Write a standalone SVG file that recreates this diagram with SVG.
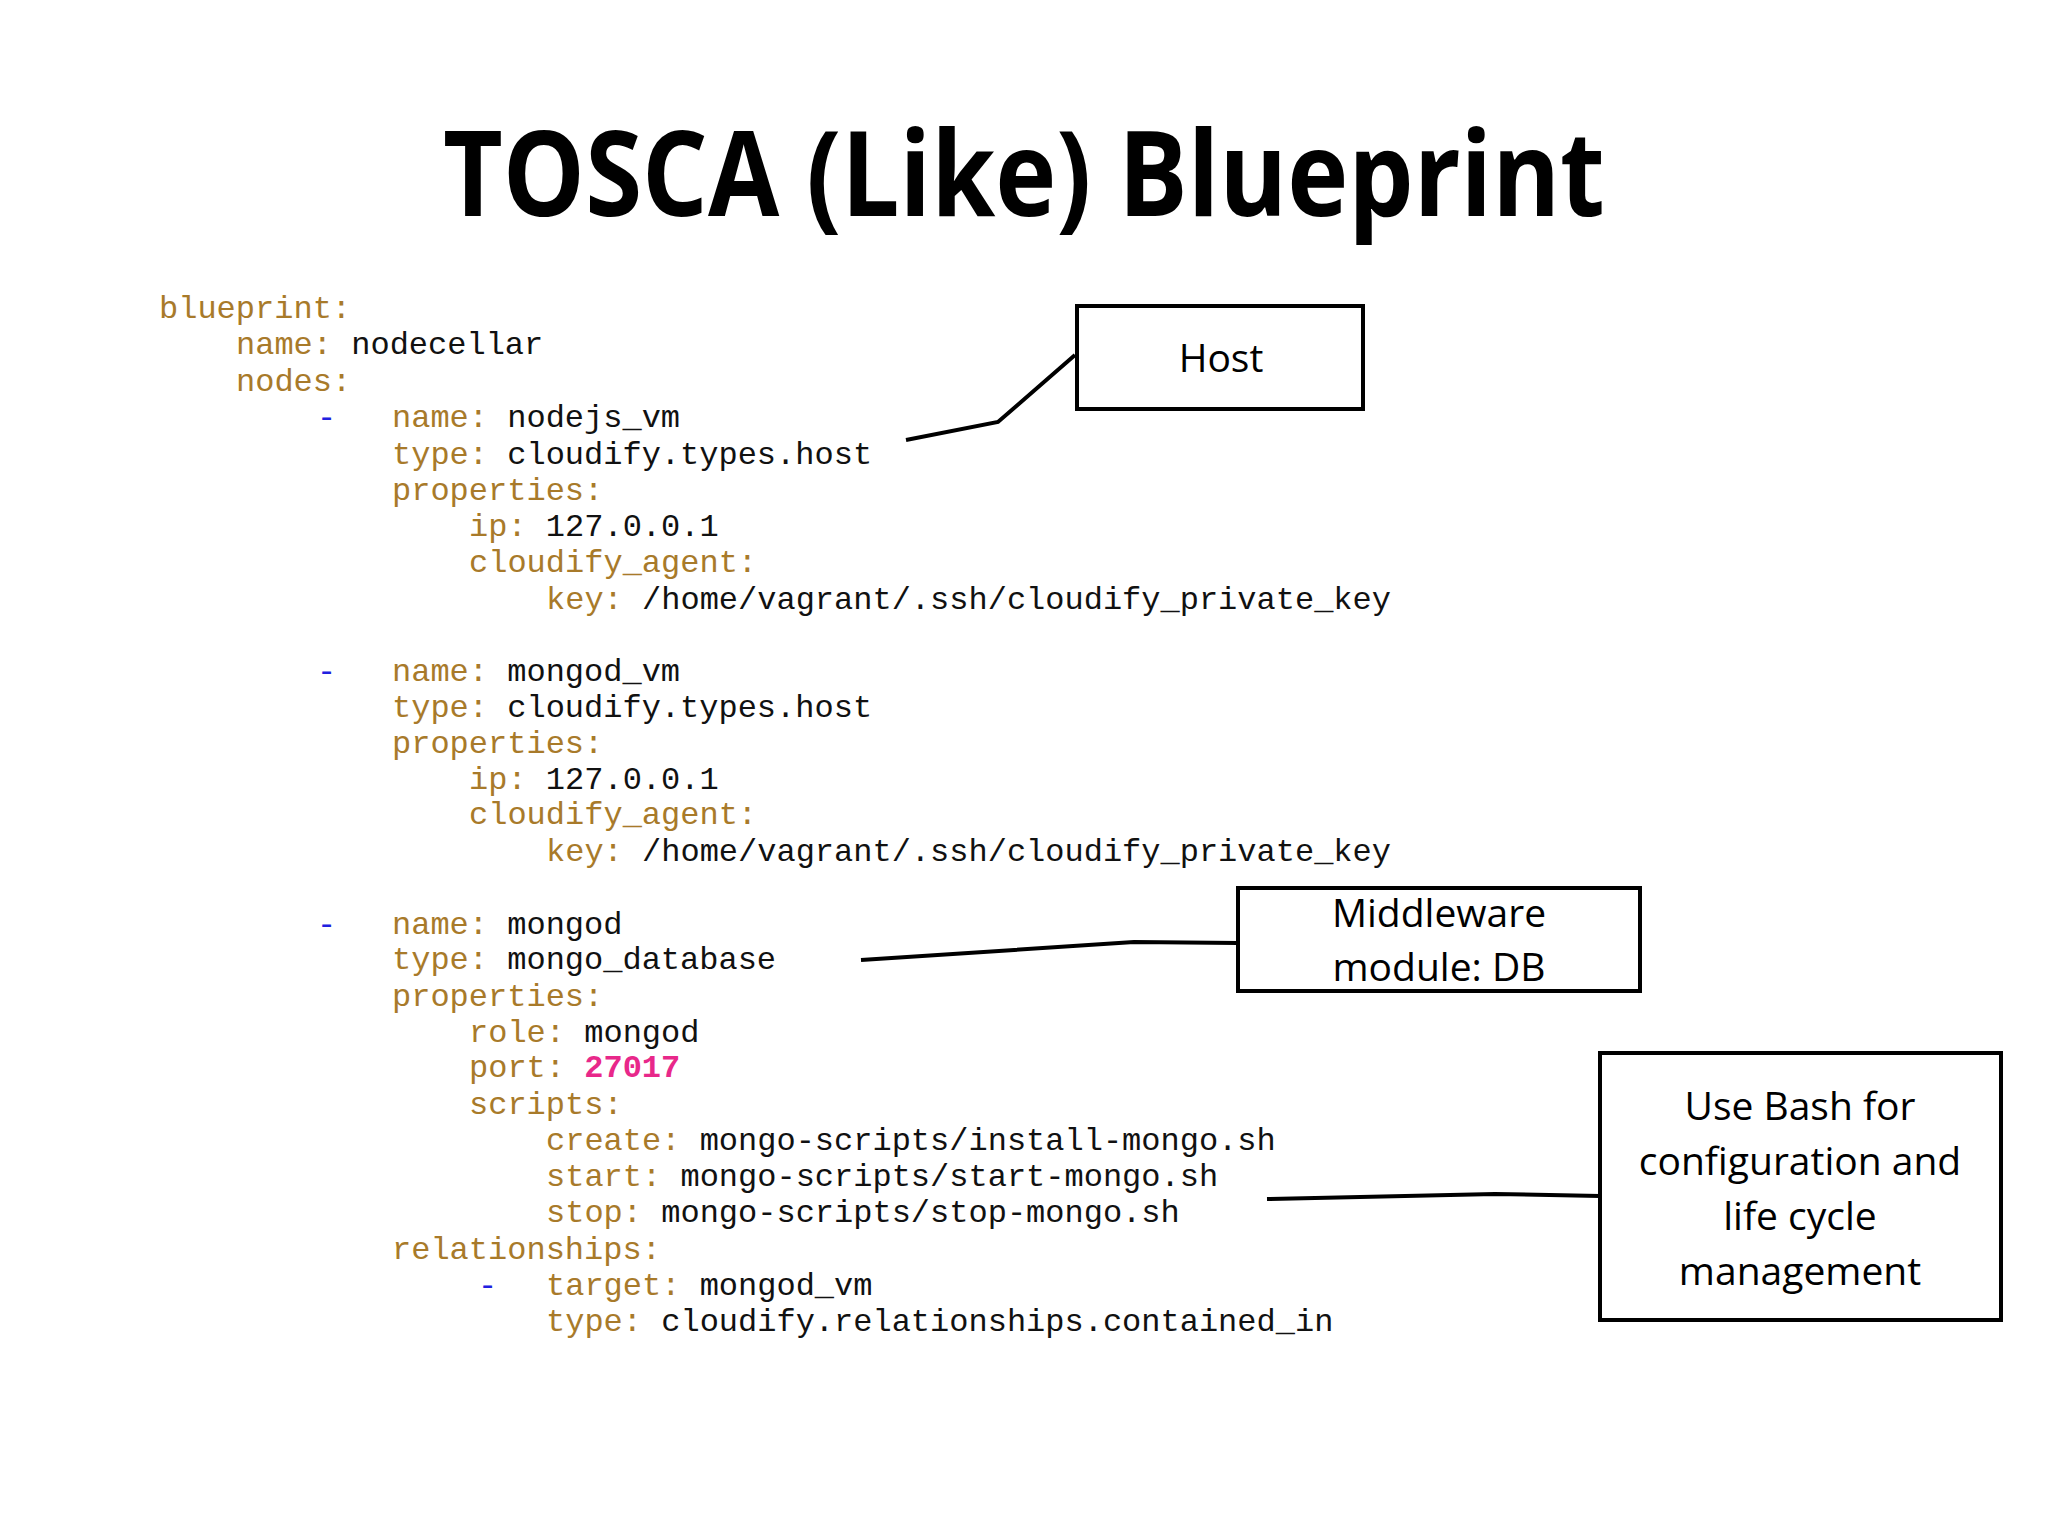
<svg xmlns="http://www.w3.org/2000/svg" width="2048" height="1536" viewBox="0 0 2048 1536">
<style>
.c{font-family:"Liberation Mono","DejaVu Sans Mono",monospace;font-size:32px}
.k{fill:#a87a2a}.v{fill:#111}.d{fill:#2020e0}.n{fill:#e8288a}
.b{fill:#fff;stroke:#000;stroke-width:4}
.t{font-family:"Open Sans","Liberation Sans",sans-serif;font-size:39px;fill:#000;text-anchor:middle}
.l{fill:none;stroke:#000;stroke-width:4}
</style>
<rect width="2048" height="1536" fill="#fff"/>
<text x="1024" y="216" text-anchor="middle" font-family="Open Sans, Liberation Sans, sans-serif" font-weight="bold" font-size="118" textLength="1162" lengthAdjust="spacingAndGlyphs">TOSCA (Like) Blueprint</text>
<g id="code" class="c">
<text x="159" y="318" class="k">blueprint:</text>
<text x="236" y="354"><tspan class="k">name:</tspan><tspan class="v"> nodecellar</tspan></text>
<text x="236" y="391" class="k">nodes:</text>
<text x="317" y="427" class="d">-</text>
<text x="392" y="427"><tspan class="k">name:</tspan><tspan class="v"> nodejs_vm</tspan></text>
<text x="392" y="464"><tspan class="k">type:</tspan><tspan class="v"> cloudify.types.host</tspan></text>
<text x="392" y="500" class="k">properties:</text>
<text x="469" y="536"><tspan class="k">ip:</tspan><tspan class="v"> 127.0.0.1</tspan></text>
<text x="469" y="572" class="k">cloudify_agent:</text>
<text x="546" y="609"><tspan class="k">key:</tspan><tspan class="v"> /home/vagrant/.ssh/cloudify_private_key</tspan></text>
<text x="317" y="681" class="d">-</text>
<text x="392" y="681"><tspan class="k">name:</tspan><tspan class="v"> mongod_vm</tspan></text>
<text x="392" y="717"><tspan class="k">type:</tspan><tspan class="v"> cloudify.types.host</tspan></text>
<text x="392" y="753" class="k">properties:</text>
<text x="469" y="789"><tspan class="k">ip:</tspan><tspan class="v"> 127.0.0.1</tspan></text>
<text x="469" y="824" class="k">cloudify_agent:</text>
<text x="546" y="861"><tspan class="k">key:</tspan><tspan class="v"> /home/vagrant/.ssh/cloudify_private_key</tspan></text>
<text x="317" y="934" class="d">-</text>
<text x="392" y="934"><tspan class="k">name:</tspan><tspan class="v"> mongod</tspan></text>
<text x="392" y="969"><tspan class="k">type:</tspan><tspan class="v"> mongo_database</tspan></text>
<text x="392" y="1006" class="k">properties:</text>
<text x="469" y="1042"><tspan class="k">role:</tspan><tspan class="v"> mongod</tspan></text>
<text x="469" y="1077"><tspan class="k">port:</tspan><tspan class="n" font-weight="bold"> 27017</tspan></text>
<text x="469" y="1114" class="k">scripts:</text>
<text x="546" y="1150"><tspan class="k">create:</tspan><tspan class="v"> mongo-scripts/install-mongo.sh</tspan></text>
<text x="546" y="1186"><tspan class="k">start:</tspan><tspan class="v"> mongo-scripts/start-mongo.sh</tspan></text>
<text x="546" y="1222"><tspan class="k">stop:</tspan><tspan class="v"> mongo-scripts/stop-mongo.sh</tspan></text>
<text x="392" y="1259" class="k">relationships:</text>
<text x="478" y="1295" class="d">-</text>
<text x="546" y="1295"><tspan class="k">target:</tspan><tspan class="v"> mongod_vm</tspan></text>
<text x="546" y="1331"><tspan class="k">type:</tspan><tspan class="v"> cloudify.relationships.contained_in</tspan></text>
</g>
<g id="connectors">
<polyline class="l" points="906,440 998,422 1075,355"/>
<polyline class="l" points="861,960 1134,942 1238,943"/>
<polyline class="l" points="1267,1199 1495,1194 1600,1196"/>
</g>
<g id="host"><rect class="b" x="1077" y="306" width="286" height="103"/><text class="t" x="1221" y="372">Host</text></g>
<g id="middleware"><rect class="b" x="1238" y="888" width="402" height="103"/><text class="t" x="1439" y="927">Middleware</text><text class="t" x="1439" y="981">module: DB</text></g>
<g id="bash"><rect class="b" x="1600" y="1053" width="401" height="267"/>
<text class="t" x="1800" y="1120">Use Bash for</text><text class="t" x="1800" y="1175">configuration and</text><text class="t" x="1800" y="1230">life cycle</text><text class="t" x="1800" y="1285">management</text></g>
</svg>
